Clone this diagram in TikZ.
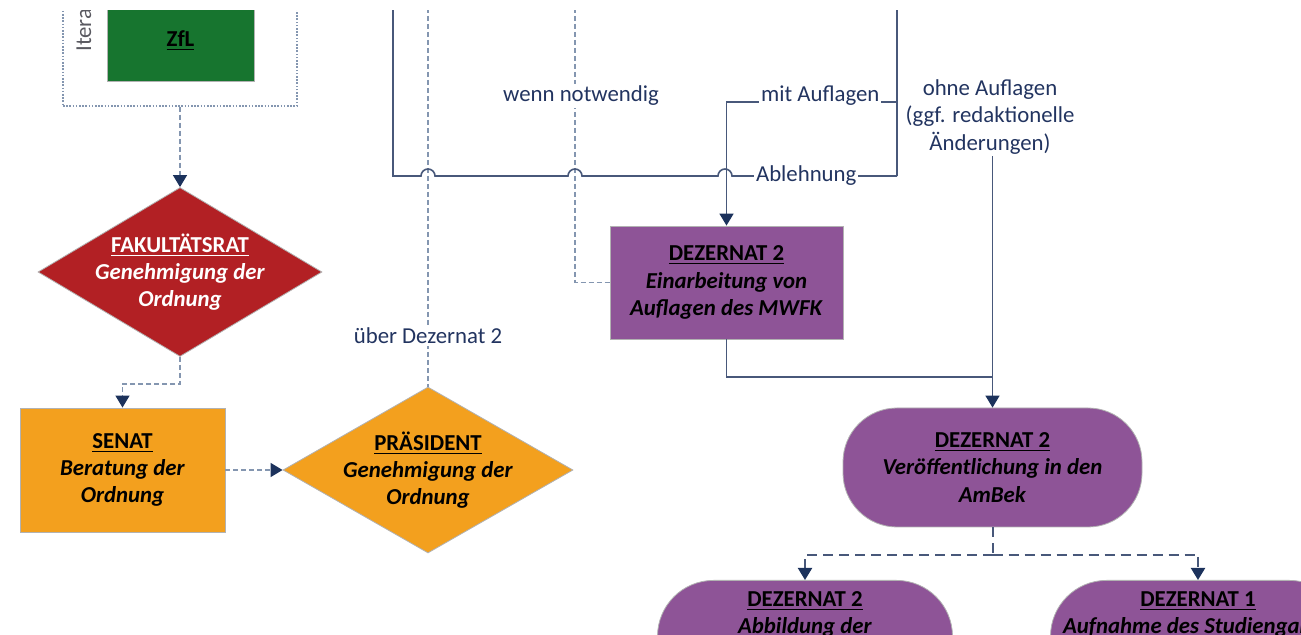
\documentclass[tikz,border=0pt]{standalone}
\usepackage{fontspec}
\setmainfont{Carlito}
\usetikzlibrary{arrows.meta, positioning, shapes.geometric}

\definecolor{zflgreen}{RGB}{23,117,47}
\definecolor{fakred}{RGB}{178,32,36}
\definecolor{senorange}{RGB}{243,160,30}
\definecolor{dezpurple}{RGB}{142,84,151}
\definecolor{flowline}{RGB}{72,88,122}
\definecolor{arrownavy}{RGB}{28,50,92}
\definecolor{labelblue}{RGB}{34,52,96}
\definecolor{dashgray}{RGB}{132,150,176}
\definecolor{itergray}{RGB}{89,89,96}

\newcommand{\boxtitle}[1]{\underline{\textbf{#1}}}
\newcommand{\boxtext}[1]{\textbf{\textit{#1}}}

\begin{document}
\begin{tikzpicture}[x=0.5pt, y=-0.5pt,
    every node/.style={font=\fontsize{11.4}{13.6}\selectfont},
    nodebox/.style={draw=gray!60, line width=0.4pt, align=center, text=black},
    greenbox/.style={nodebox, fill=zflgreen, minimum width=73.5pt, minimum height=40pt},
    orangebox/.style={nodebox, fill=senorange, minimum width=102.5pt, minimum height=62pt},
    purplebox/.style={nodebox, fill=dezpurple, minimum width=116.5pt, minimum height=56.5pt},
    purplestadium/.style={nodebox, fill=dezpurple, rounded corners=27pt, minimum width=149.5pt, minimum height=59.5pt},
    gate/.style={nodebox, diamond, inner sep=-9pt, shape aspect=1.68},
    iterbox/.style={draw=dashgray, line width=0.7pt, dash pattern=on 0.8pt off 0.8pt, minimum width=117pt, minimum height=78pt},
    lbl/.style={fill=white, text=labelblue, inner sep=1pt, align=center},
    flow/.style={draw=flowline, line width=0.8pt},
    navytip/.style={-{Triangle[length=6pt, width=7pt, color=arrownavy]}},
    dashflow/.style={draw=dashgray, line width=0.7pt, dash pattern=on 2.5pt off 1.5pt},
    navydash/.style={draw=flowline, line width=1pt, dash pattern=on 5pt off 3pt}
]
\useasboundingbox (0,0) rectangle (1301,635);
\clip (0,11) rectangle (1301,635);

% boxes
\node[iterbox] (iter) at (180,28) {};
\node[greenbox] (zfl) at (180.5,41) {\boxtitle{ZfL}};
\node[rotate=90, anchor=base west, inner sep=0pt, text=itergray] (iterlbl) at (91,52) {Itera};
\node[gate, fill=fakred, text=white, minimum width=142pt, minimum height=84.5pt] (fak) at (180,272)
    {\boxtitle{FAKULTÄTSRAT}\\ \boxtext{Genehmigung der}\\ \boxtext{Ordnung}};
\node[orangebox] (senat) at (122.5,470)
    {\boxtitle{SENAT}\\ \boxtext{Beratung der}\\ \boxtext{Ordnung}};
\node[gate, fill=senorange, minimum width=145pt, minimum height=83pt] (praes) at (428,470)
    {\boxtitle{PRÄSIDENT}\\ \boxtext{Genehmigung der}\\ \boxtext{Ordnung}};
\node[purplebox] (einarb) at (726.5,282.5)
    {\boxtitle{DEZERNAT 2}\\ \boxtext{Einarbeitung von}\\ \boxtext{Auflagen des MWFK}};
\node[purplestadium] (veroeff) at (992.5,467.5)
    {\boxtitle{DEZERNAT 2}\\ \boxtext{Veröffentlichung in den}\\ \boxtext{AmBek}};
\node[purplestadium, anchor=north, minimum width=147.5pt, minimum height=75pt, rounded corners=28pt] (abbild) at (805,580) {};
\node[purplestadium, anchor=north, minimum width=147.5pt, minimum height=75pt, rounded corners=28pt] (aufnahme) at (1198,580) {};
\node[anchor=north, align=center, inner sep=0pt] (abbildtxt) at ([yshift=-5.5pt]abbild.north)
    {\boxtitle{DEZERNAT 2}\\ \boxtext{Abbildung der}};
\node[anchor=north, align=center, inner sep=0pt] (aufnahmetxt) at ([yshift=-5.5pt]aufnahme.north)
    {\boxtitle{DEZERNAT 1}\\ \boxtext{Aufnahme des Studiengangs}};

% free ends
\coordinate (mwfk) at (897,0);
\coordinate (mitAb) at (897,102);
\coordinate (ablAb) at (897,176);
\coordinate (ablOut) at (393,0);
\coordinate (ueberIn) at (428,0);
\coordinate (wennIn) at (575,0);
\coordinate (merge) at (992.5,377);
\coordinate (fork) at (992.5,555);

% dashed side paths
\draw[dashflow, navytip] (iter.south) -- (fak.north);
\draw[dashflow, navytip] (fak.south) -- ++(0,27) -| (senat.north);
\draw[dashflow, navytip] (senat.east) -- (praes.west);
\draw[dashflow] (ueberIn) -- (praes.north);
\draw[dashflow] (wennIn) |- (einarb.west);
\node[lbl] (ueberLbl) at (428,336) {über Dezernat 2};
\node[lbl] (wennLbl) at (581,96) {wenn notwendig};

% decision MWFK
\draw[flow] (mwfk) -- (ablAb);
\draw[flow, navytip] (mitAb) -| (einarb.north) node[pos=0.225, lbl, yshift=3pt] {mit Auflagen};
\draw[flow] (ablAb) -- node[pos=0.55, lbl] {Ablehnung} (732,176) arc (0:-180:7) -- (582,176) arc (0:-180:7)
    -- (435,176) arc (0:-180:7) -- (393,176) -- (ablOut);
\node[lbl, fill=none] (ohneLbl) at (990,117) {ohne Auflagen\\(ggf. redaktionelle\\Änderungen)};
\draw[flow, navytip] (ohneLbl.south -| veroeff.north) -- (veroeff.north);
\draw[flow] (einarb.south) |- (merge);

% publication
\draw[navydash] (veroeff.south) -- (fork);
\draw[navydash, navytip] (fork) -| (abbild.north);
\draw[navydash, navytip] (fork) -| (aufnahme.north);
\end{tikzpicture}
\end{document}
